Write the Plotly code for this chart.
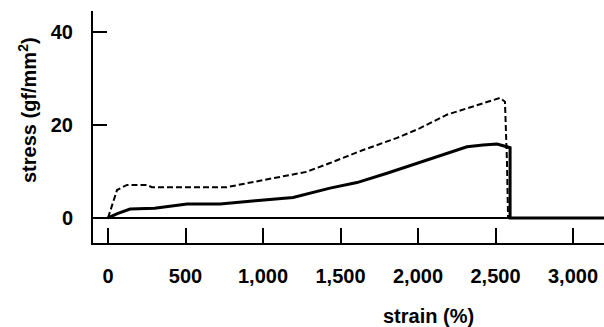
import plotly.graph_objects as go

# strain (%) and stress (gf/mm^2)
solid_strain = [0, 60, 142, 300, 510, 723, 950, 1194, 1432, 1606, 1800, 2013, 2187, 2316, 2420, 2510, 2594, 2594, 2620, 3200]
solid_stress = [0, 0.9, 1.9, 2.1, 3.0, 3.0, 3.7, 4.4, 6.4, 7.6, 9.6, 12.0, 14.0, 15.3, 15.7, 15.9, 15.1, 0, 0, 0]

dash_strain = [0, 32, 58, 123, 250, 283, 766, 871, 1153, 1280, 1432, 1645, 1865, 2013, 2187, 2335, 2529, 2561, 2574, 2581]
dash_stress = [0, 3.2, 6.0, 7.1, 7.1, 6.6, 6.6, 7.3, 9.2, 9.9, 11.8, 14.6, 17.2, 19.3, 22.2, 23.8, 25.8, 25.0, 12.0, 0]

x_ticks = [0, 500, 1000, 1500, 2000, 2500, 3000]
x_labels = ["0", "500", "1,000", "1,500", "2,000", "2,500", "3,000"]
y_ticks = [0, 20, 40]
y_labels = ["0", "20", "40"]

FONT = "Liberation Sans, Arial, sans-serif"

fig = go.Figure()
fig.add_trace(go.Scatter(x=dash_strain, y=dash_stress, mode="lines",
                         line=dict(color="black", width=2, dash="6px,3px"),
                         showlegend=False))
fig.add_trace(go.Scatter(x=solid_strain, y=solid_stress, mode="lines",
                         line=dict(color="black", width=3),
                         showlegend=False))

fig.update_layout(
    width=604, height=327,
    margin=dict(l=93, r=0, t=11, b=84),
    plot_bgcolor="white", paper_bgcolor="white",
    font=dict(family=FONT, size=20, color="black"),
    xaxis=dict(range=[-97, 3200], tickvals=x_ticks, ticktext=x_labels,
               ticks="inside", ticklen=15, tickwidth=2, tickcolor="black",
               showline=True, linecolor="black", linewidth=2,
               showgrid=False, zeroline=False,
               tickfont=dict(family=FONT, size=20, color="black", weight="bold"),
               ticklabelstandoff=14),
    yaxis=dict(range=[-5.4, 44.5], tickvals=y_ticks, ticktext=y_labels,
               ticks="inside", ticklen=14, tickwidth=1.5, tickcolor="black",
               showline=True, linecolor="black", linewidth=2,
               showgrid=False, zeroline=True, zerolinecolor="black", zerolinewidth=1.5,
               tickfont=dict(family=FONT, size=20, color="black", weight="bold"),
               ticklabelstandoff=14),
    annotations=[
        dict(text="stress (gf/mm<sup>2</sup>)", textangle=-90, xref="paper", yref="paper",
             x=(27 - 93) / 511, y=(243 - 110) / 232, xanchor="center", yanchor="middle",
             showarrow=False, font=dict(family=FONT, size=20, color="black", weight="bold")),
        dict(text="strain (%)", xref="paper", yref="paper",
             x=(428 - 93) / 511, y=(243 - 316) / 232, xanchor="center", yanchor="middle",
             showarrow=False, font=dict(family=FONT, size=20, color="black", weight="bold")),
    ],
)

fig.write_html("out.html")
